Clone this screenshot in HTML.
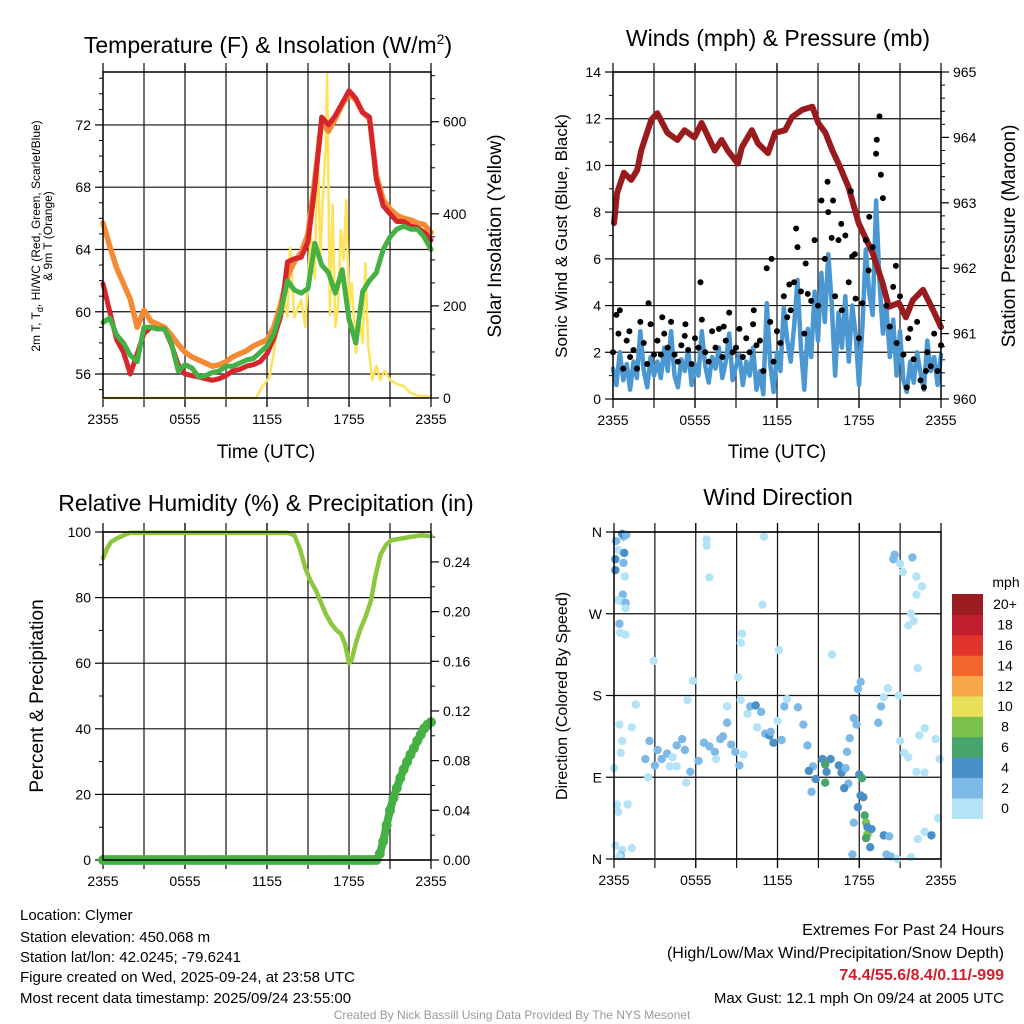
<!DOCTYPE html>
<html><head><meta charset="utf-8">
<style>
body{margin:0;background:#fff;}
svg{display:block;font-family:"Liberation Sans",Arial,sans-serif;}
</style></head>
<body>
<svg id="chart" width="1024" height="1024" viewBox="0 0 1024 1024" xmlns="http://www.w3.org/2000/svg">
<rect width="1024" height="1024" fill="#fff"/>
<g id="layer"></g>
<!-- titles -->
<text x="268" y="53" font-size="23" text-anchor="middle">Temperature (F) &amp; Insolation (W/m<tspan font-size="14" dy="-9">2</tspan><tspan dy="9">)</tspan></text>
<text x="778" y="46" font-size="23" text-anchor="middle">Winds (mph) &amp; Pressure (mb)</text>
<text x="266" y="511" font-size="23" text-anchor="middle">Relative Humidity (%) &amp; Precipitation (in)</text>
<text x="778" y="505" font-size="23" text-anchor="middle">Wind Direction</text>
<!-- axis titles -->
<text x="266" y="458" font-size="19" text-anchor="middle">Time (UTC)</text>
<text x="777" y="458" font-size="19" text-anchor="middle">Time (UTC)</text>
<text transform="translate(40,236) rotate(-90)" font-size="12" text-anchor="middle">2m T, T<tspan font-size="9" dy="3">d</tspan><tspan dy="-3">, HI/WC (Red, Green, Scarlet/Blue)</tspan></text>
<text transform="translate(52,236) rotate(-90)" font-size="12" text-anchor="middle">&amp; 9m T (Orange)</text>
<text transform="translate(501,236) rotate(-90)" font-size="19" text-anchor="middle">Solar Insolation (Yellow)</text>
<text transform="translate(567,236) rotate(-90)" font-size="17" text-anchor="middle">Sonic Wind &amp; Gust (Blue, Black)</text>
<text transform="translate(1015,236) rotate(-90)" font-size="19" text-anchor="middle">Station Pressure (Maroon)</text>
<text transform="translate(43,696) rotate(-90)" font-size="19" text-anchor="middle">Percent &amp; Precipitation</text>
<text transform="translate(567,696) rotate(-90)" font-size="16" text-anchor="middle">Direction (Colored By Speed)</text>
<!-- info text -->
<g font-size="15">
<text x="20" y="920">Location: Clymer</text>
<text x="20" y="942">Station elevation: 450.068 m</text>
<text x="20" y="962">Station lat/lon: 42.0245; -79.6241</text>
<text x="20" y="982">Figure created on Wed, 2025-09-24, at 23:58 UTC</text>
<text x="20" y="1003">Most recent data timestamp: 2025/09/24 23:55:00</text>
</g>
<g font-size="15" text-anchor="end">
<text x="1004" y="935" font-size="16">Extremes For Past 24 Hours</text>
<text x="1004" y="958" font-size="16">(High/Low/Max Wind/Precipitation/Snow Depth)</text>
<text x="1004" y="980" font-size="16" font-weight="bold" fill="#d0202a">74.4/55.6/8.4/0.11/-999</text>
<text x="1004" y="1003">Max Gust: 12.1 mph On 09/24 at 2005 UTC</text>
</g>
<text x="512" y="1019" font-size="12" fill="#999" text-anchor="middle">Created By Nick Bassill Using Data Provided By The NYS Mesonet</text>
</svg>
<script>
// ---------- data ----------
const halfHours=[0,0.5,1,1.5,2,2.5,3,3.5,4,4.5,5,5.5,6,6.5,7,7.5,8,8.5,9,9.5,10,10.5,11,11.5,12,12.5,13,13.5,14,14.5,15,15.5,16,16.5,17,17.5,18,18.5,19,19.5,20,20.5,21,21.5,22,22.5,23,23.5,24];
const temp2m=[61.8,60.0,58.2,57.4,56.0,57.3,58.6,59.0,58.9,58.9,57.9,56.6,56.0,55.9,55.8,55.7,55.6,55.7,55.9,56.2,56.3,56.5,56.6,56.8,57.3,58.3,59.7,63.2,63.4,63.5,64.5,68.0,72.5,72.0,72.6,73.4,74.2,73.7,72.8,72.5,68.5,66.8,66.3,65.8,65.8,65.5,65.4,65.1,64.6];
const temp9m=[65.7,64.2,62.8,61.8,60.8,59.0,60.1,59.4,59.2,59.0,58.5,57.9,57.4,57.1,56.9,56.7,56.5,56.6,56.8,57.1,57.3,57.5,57.8,58.0,58.2,59.0,60.5,62.3,63.2,63.8,65.0,68.5,72.2,71.6,72.4,73.3,74.0,73.6,72.8,72.4,68.8,67.2,66.6,66.2,66.0,65.9,65.7,65.6,65.1];
const dewpoint=[59.3,59.6,58.5,58.0,57.2,56.8,59.0,59.0,58.9,58.9,58.0,56.2,56.6,56.4,55.8,55.9,56.1,56.2,56.5,56.5,56.7,56.9,57.0,57.4,57.8,58.6,60.0,62.0,61.4,61.2,61.5,64.4,63.0,62.5,61.2,62.7,59.5,58.0,61.3,62.0,62.5,64.0,64.8,65.3,65.5,65.3,65.3,64.8,64.0];
const solarHours=[0,11.2,11.6,12.2,12.8,13.2,13.5,13.7,14.0,14.5,14.8,15.2,15.5,15.7,15.9,16.1,16.3,16.4,16.6,16.8,17.0,17.2,17.4,17.6,17.8,18.0,18.2,18.5,18.8,19.0,19.2,19.4,19.7,20.0,20.3,20.6,21.0,21.5,22.0,22.5,23.0,24];
const solar=[0,0,22,46,154,228,176,326,176,213,154,359,260,567,300,440,554,706,180,420,154,200,365,300,430,191,250,98,165,120,293,117,39,70,39,60,39,30,26,11,5,3];

const pressHours=[0.07,0.3,0.8,1.33,1.77,2.06,2.8,3.24,3.98,4.71,5.23,5.96,6.48,7.44,7.95,8.39,9.13,9.43,10.16,10.6,11.34,11.86,12.59,13.1,13.84,14.58,15.02,15.54,16.05,16.5,17.23,17.97,19.0,19.73,20.18,20.91,21.43,21.94,22.68,23.42,24];
const pressure=[962.69,963.15,963.46,963.35,963.5,963.8,964.27,964.37,964.07,963.96,964.11,964.0,964.22,963.8,963.96,963.8,963.6,963.85,964.11,963.91,963.76,964.07,964.11,964.31,964.42,964.47,964.22,964.07,963.8,963.6,963.24,962.69,962.23,961.77,961.41,961.47,961.25,961.51,961.67,961.36,961.1];
const quarterHours=[0,0.25,0.5,0.75,1,1.25,1.5,1.75,2,2.25,2.5,2.75,3,3.25,3.5,3.75,4,4.25,4.5,4.75,5,5.25,5.5,5.75,6,6.25,6.5,6.75,7,7.25,7.5,7.75,8,8.25,8.5,8.75,9,9.25,9.5,9.75,10,10.25,10.5,10.75,11,11.25,11.5,11.75,12,12.25,12.5,12.75,13,13.25,13.5,13.75,14,14.25,14.5,14.75,15,15.25,15.5,15.75,16,16.25,16.5,16.75,17,17.25,17.5,17.75,18,18.25,18.5,18.75,19,19.25,19.5,19.75,20,20.25,20.5,20.75,21,21.25,21.5,21.75,22,22.25,22.5,22.75,23,23.25,23.5,23.75,24];
const sonicWind=[1.3,0.6,2.0,0.8,1.5,0.4,1.6,0.9,2.9,1.2,0.5,1.8,1.0,
1.6,0.9,2.2,1.2,2.9,1.0,0.5,1.7,1.2,2.1,0.6,1.5,
1.0,2.9,1.4,0.7,1.8,1.3,2.2,0.9,1.6,2.8,0.8,1.4,
1.9,0.6,1.6,1.0,2.2,0.4,1.2,0.2,4.1,1.5,0.3,2.0,
1.2,3.9,2.5,1.6,3.1,5.1,2.2,0.4,3.0,1.8,4.6,2.5,
5.4,3.3,6.2,4.1,1.0,3.7,2.2,4.4,1.6,4.0,2.8,0.6,
3.1,6.4,4.5,3.6,8.5,5.0,2.8,4.0,1.8,3.4,1.0,2.9,
0.8,0.3,1.6,0.7,2.0,1.1,0.4,2.5,1.2,1.8,0.6,1.9];
const gust=[2.0,3.6,3.8,1.3,2.5,1.8,2.1,1.3,3.3,2.4,1.5,3.2,1.9,
2.5,1.9,2.8,2.2,3.3,1.9,1.6,2.3,2.7,2.1,1.5,2.6,
2.2,3.4,2.0,1.6,2.9,2.2,3.0,1.8,2.5,3.7,2.0,2.2,
3.0,1.8,2.6,2.0,3.2,2.3,2.5,1.2,5.6,3.3,1.6,2.9,
2.4,4.4,3.5,3.8,5.0,6.5,4.6,2.8,4.5,4.2,6.8,4.0,
8.5,6.0,8.0,6.9,4.4,6.8,3.8,7.0,5.0,6.1,4.3,2.6,
4.1,6.8,7.8,6.5,10.5,12.1,8.6,4.0,3.1,4.8,2.4,4.4,
1.9,0.5,3.0,1.7,3.3,0.8,0.5,2.0,1.4,2.8,1.2,2.3];
const extraGustHours=[0.4,2.6,6.4,11.6,13.4,15.7,16.1,17.4,19.3,19.6,20.7,1.2,3.6,5.3,8.1,10.3,12.9,14.1,16.7,17.7,18.7,21.6,22.9];
const extraGust=[2.8,4.1,5.0,6.0,7.3,9.3,8.5,8.9,11.1,9.6,5.7,2.9,3.5,3.2,3.1,3.8,4.9,5.8,7.5,6.2,5.5,2.6,1.2];

const rhHours=[0,0.3,0.6,1.0,1.5,2.0,13.5,14.0,14.4,14.8,15.2,15.6,15.9,16.3,16.7,17.1,17.4,17.7,18.0,18.2,18.5,18.8,19.2,19.6,19.9,20.3,20.7,21.1,21.8,22.5,23.3,24];
const relHumidity=[92,95,97,98,99,99.8,99.8,99,95,89,85,82,79,75,72,70,69,66,60,61,66,70,74,79,86,93,96,97.5,98,98.5,99,98.7];
const precip=[0,0,0,0,0,0,0,0,0,0,0,0,0,0,0,0,0,0,0,0,0,0,0,0,0,0,0,0,0,0,0,0,0,0,0,0,0,0,0,0,0,0,0,0,0,0,0,0,0,0,0,0,0,0,0,0,0,0,0,0,0,0,0,0,0,0,0,0,0,0,0,0,0,0,0,0,0,0,0,0,0,
0.005,0.015,0.028,0.04,0.05,0.058,0.066,0.073,0.079,0.085,0.09,0.096,0.101,0.106,0.109,0.111];

const dirHours=[0.15,0.1,0.3,0.1,0.7,0.6,0.9,0.75,0.7,0.8,0.65,0.3,0.5,0.85,0.85,0.4,0.45,0.85,0.2,0.1,0.6,0.5,0.4,1.3,0.3,0.4,0.6,0.5,0.0,1.6,1.3,1.0,
2.9,2.5,2.3,2.6,3.0,3.2,3.5,3.9,4.3,4.6,4.1,4.6,5.0,5.2,5.3,5.6,6.2,6.6,7.0,7.4,7.8,7.5,8.0,8.3,8.6,8.9,9.2,9.5,9.8,10.0,10.4,10.8,10.5,11.1,11.4,11.7,12.0,11.5,12.3,12.5,12.7,13.5,13.9,14.2,14.6,14.3,14.8,15.3,15.5,15.6,15.9,16.5,16.7,17.0,17.2,16.9,15.5,14.5,17.1,17.3,17.8,17.6,18.1,17.9,16.0,12.1,9.4,9.3,19.4,19.6,19.8,20.1,20.9,21.0,21.3,21.6,21.8,21.6,22.3,22.0,
18.0,18.1,18.3,17.9,18.4,18.5,18.6,18.5,18.8,18.6,18.9,17.6,17.5,18.2,19.8,20.2,20.0,20.3,20.8,21.8,22.3,22.8,23.3,23.8,23.9,23.6,22.8,22.4,22.2,22.8,20.6,20.5,21.0,21.2,21.9,22.2,22.2,22.6,
6.8,6.8,7.0,11.0,10.9,9.1,9.3,8.3,5.4,5.8];
const dirDegrees=[350,330,340,318,355,358,357,337,326,311,291,285,284,282,276,259,249,247,60,15,10,4,3,12,52,148,130,117,100,170,145,60,
218,90,110,130,103,120,110,116,112,125,102,102,132,120,84,96,108,128,124,118,132,110,135,150,126,118,103,115,160,168,169,162,145,138,136,128,152,140,131,168,176,167,148,125,102,97,88,110,104,96,110,103,95,100,83,78,84,74,118,133,148,155,195,187,225,230,248,238,150,168,178,188,180,130,117,112,270,257,210,262,
93,70,68,57,48,40,27,23,13,35,33,40,5,89,26,25,5,3,0,2,22,30,26,45,110,132,144,136,96,95,335,330,325,316,332,311,291,300,
352,345,310,355,280,200,175,168,175,196];
const dirSpeed=[3,5,1,5,3,5,3,5,3,1,3,1,1,3,1,3,1,1,1,1,1,3,1,1,1,1,1,1,1,1,1,1,
1,1,3,3,3,3,3,3,1,3,1,1,3,3,1,3,3,3,3,3,3,1,3,3,3,3,3,1,1,3,5,3,1,3,5,5,1,3,3,3,1,3,3,3,3,5,5,5,7,5,5,5,5,3,3,5,7,3,3,3,3,3,3,3,1,1,1,1,3,3,1,1,1,1,1,1,1,1,1,1,
5,5,5,5,7,9,9,7,5,5,5,3,3,7,5,3,3,3,1,1,1,1,5,1,1,1,1,1,1,1,3,3,1,1,3,1,1,1,
1,1,1,1,1,1,1,1,1,1];
const speedBins=["0","2","4","6","8","10","12","14","16","18","20+"];
const speedColors=["#b4e3f8","#7db9e6","#4a90c8","#45a56b","#7ac14b","#e9e05a","#f7a648","#f2662b","#e0332b","#be1e2d","#9b1c20"];
const timeTickLabels=["2355","0555","1155","1755","2355"];

// ---------- helpers ----------
const NS="http://www.w3.org/2000/svg";
const layer=document.getElementById('layer');
function mk(tag,attrs,parent){const e=document.createElementNS(NS,tag);for(const k in attrs)e.setAttribute(k,attrs[k]);(parent||layer).appendChild(e);return e;}
function lin(d0,d1,r0,r1){return v=>r0+(v-d0)/(d1-d0)*(r1-r0);}

function frame(p,name){
  const g=mk('g',{});
  
  
  // vertical grid every 3h
  for(let h=3;h<24;h+=3){
    const x=p.x(h);
    const l=mk('line',{x1:x,x2:x,y1:p.y0-9,y2:p.y1+9,stroke:'#111','stroke-width':1.2},g);
    
    
  }
  timeTickLabels.forEach((lab,i)=>{
    const x=p.x(i*6);
    mk('line',{x1:x,x2:x,y1:p.y1,y2:p.y1+9,stroke:'#000','stroke-width':1.2},g);
    mk('line',{x1:x,x2:x,y1:p.y0-9,y2:p.y0,stroke:'#000','stroke-width':1.2},g);
    const t=mk('text',{x:x,y:p.y1+26,'font-size':14,'text-anchor':'middle'},g);
    t.textContent=lab;
    
    
  });
  return g;
}
function border(p,name){
  const r=mk('rect',{x:p.x0,y:p.y0,width:p.x1-p.x0,height:p.y1-p.y0,fill:'none',stroke:'#000','stroke-width':1.5});
  
  
}
function yAxis(p,ys,ticks,labels,minor,side,name,fmt){
  const g=mk('g',{});
  
  
  const x=side==='left'?p.x0:p.x1, dir=side==='left'?-1:1;
  minor.forEach(v=>{const y=ys(v);mk('line',{x1:x,x2:x+dir*4,y1:y,y2:y,stroke:'#000'},g);});
  ticks.forEach((v,i)=>{
    const y=ys(v);
    mk('line',{x1:x,x2:x+dir*8,y1:y,y2:y,stroke:'#000','stroke-width':1.2},g);
    if(side==='left'&&p.hgrid){
      const gl=mk('line',{x1:p.x0,x2:p.x1,y1:y,y2:y,stroke:'#111','stroke-width':1.2},g);
      
      
    }
    const t=mk('text',{x:x+dir*12,y:y+5,'font-size':14,'text-anchor':side==='left'?'end':'start'},g);
    t.textContent=labels[i];
    
    
  });
}
function path(xs,ys,xa,ya,stroke,w,name){
  let d='';xs.forEach((h,i)=>{d+=(i?'L':'M')+xa(h).toFixed(1)+','+ya(ys[i]).toFixed(1);});
  const e=mk('path',{d:d,fill:'none',stroke:stroke,'stroke-width':w,'stroke-linejoin':'round','stroke-linecap':'round'});
  
  
  return e;
}

// ---------- panel 1: temperature ----------
const p1={x0:103,x1:431,y0:72,y1:398,hgrid:true};
p1.x=lin(0,24,p1.x0,p1.x1);
const yT=lin(54.46,75.4,p1.y1,p1.y0);
const yS=lin(0,708,p1.y1,p1.y0);
frame(p1,'temperature');
yAxis(p1,yT,[56,60,64,68,72],["56","60","64","68","72"],[55,57,58,59,61,62,63,65,66,67,69,70,71,73,74,75],'left','temperature-y-axis');
yAxis(p1,yS,[0,200,400,600],["0","200","400","600"],[50,100,150,250,300,350,450,500,550,650,700],'right','insolation-y-axis');
path(solarHours,solar,p1.x,yS,'#fde25a',2.5,'insolation-line');
path(halfHours,temp9m,p1.x,yT,'#f58a34',5.5,'temp-9m-line');
path(halfHours,temp2m,p1.x,yT,'#d7262b',5,'temp-2m-line');
path(halfHours,dewpoint,p1.x,yT,'#45b043',5,'dewpoint-line');
border(p1,'temperature');

// ---------- panel 2: winds ----------
const p2={x0:613,x1:941,y0:72,y1:399,hgrid:true};
p2.x=lin(0,24,p2.x0,p2.x1);
const yW=lin(0,14,p2.y1,p2.y0);
const yP=lin(960,965,p2.y1,p2.y0);
frame(p2,'winds');
yAxis(p2,yW,[0,2,4,6,8,10,12,14],["0","2","4","6","8","10","12","14"],[1,3,5,7,9,11,13],'left','wind-y-axis');
yAxis(p2,yP,[960,961,962,963,964,965],["960","961","962","963","964","965"],[960.2,960.4,960.6,960.8,961.2,961.4,961.6,961.8,962.2,962.4,962.6,962.8,963.2,963.4,963.6,963.8,964.2,964.4,964.6,964.8],'right','pressure-y-axis');
path(quarterHours,sonicWind,p2.x,yW,'#4b97d2',4.5,'sonic-wind-line');
path(pressHours,pressure,p2.x,yP,'#991b1e',6,'pressure-line');
gust.forEach((v,i)=>{
  const c=mk('circle',{cx:p2.x(quarterHours[i]),cy:yW(v),r:3,fill:'#000'});
  
  
});
extraGust.forEach((v,i)=>{
  const c=mk('circle',{cx:p2.x(extraGustHours[i]),cy:yW(v),r:3,fill:'#000'});
  
  
});
border(p2,'winds');

// ---------- panel 3: humidity ----------
const p3={x0:103,x1:431,y0:532,y1:860,hgrid:true};
p3.x=lin(0,24,p3.x0,p3.x1);
const yRH=lin(0,100,p3.y1,p3.y0);
const yPr=lin(0,0.2641,p3.y1,p3.y0);
frame(p3,'humidity');
yAxis(p3,yRH,[0,20,40,60,80,100],["0","20","40","60","80","100"],[10,30,50,70,90],'left','humidity-y-axis');
yAxis(p3,yPr,[0,0.04,0.08,0.12,0.16,0.20,0.24],["0.00","0.04","0.08","0.12","0.16","0.20","0.24"],[0.02,0.06,0.10,0.14,0.18,0.22,0.26],'right','precip-y-axis');
path(rhHours,relHumidity,p3.x,yRH,'#8dc63f',4.5,'humidity-line');
path(quarterHours,precip,p3.x,yPr,'#45b043',8,'precip-line');
precip.forEach((v,i)=>{
  const c=mk('circle',{cx:p3.x(quarterHours[i]),cy:yPr(v),r:5,fill:'#45b043'});
  
  
});
border(p3,'humidity');

// ---------- panel 4: wind direction ----------
const p4={x0:614,x1:941,y0:532,y1:859,hgrid:true};
p4.x=lin(0,24,p4.x0,p4.x1);
const yD=lin(0,360,p4.y1,p4.y0);
frame(p4,'direction');
yAxis(p4,yD,[0,90,180,270,360],["N","E","S","W","N"],[],'left','direction-y-axis');
function speedColor(s){let k=Math.floor(s/2);if(k>10)k=10;return speedColors[k];}
dirDegrees.forEach((d,i)=>{
  const c=mk('circle',{cx:p4.x(dirHours[i]),cy:yD(d),r:4.2,fill:speedColor(dirSpeed[i])});
  
  
});
border(p4,'direction');

// colorbar
const cb=mk('g',{});


const cbTop=594,cbH=20.4;
speedColors.forEach((col,i)=>{
  const y=cbTop+(10-i)*cbH;
  const r=mk('rect',{x:952,y:y,width:31,height:cbH+0.5,fill:col},cb);
  
  
  const t=mk('text',{x:1005,y:y+cbH/2+5,'font-size':14,'text-anchor':'middle'},cb);
  t.textContent=speedBins[i];
  
  
});
const mph=mk('text',{x:1006,y:587,'font-size':14,'text-anchor':'middle'},cb);
mph.textContent='mph';


</script>
</body></html>
